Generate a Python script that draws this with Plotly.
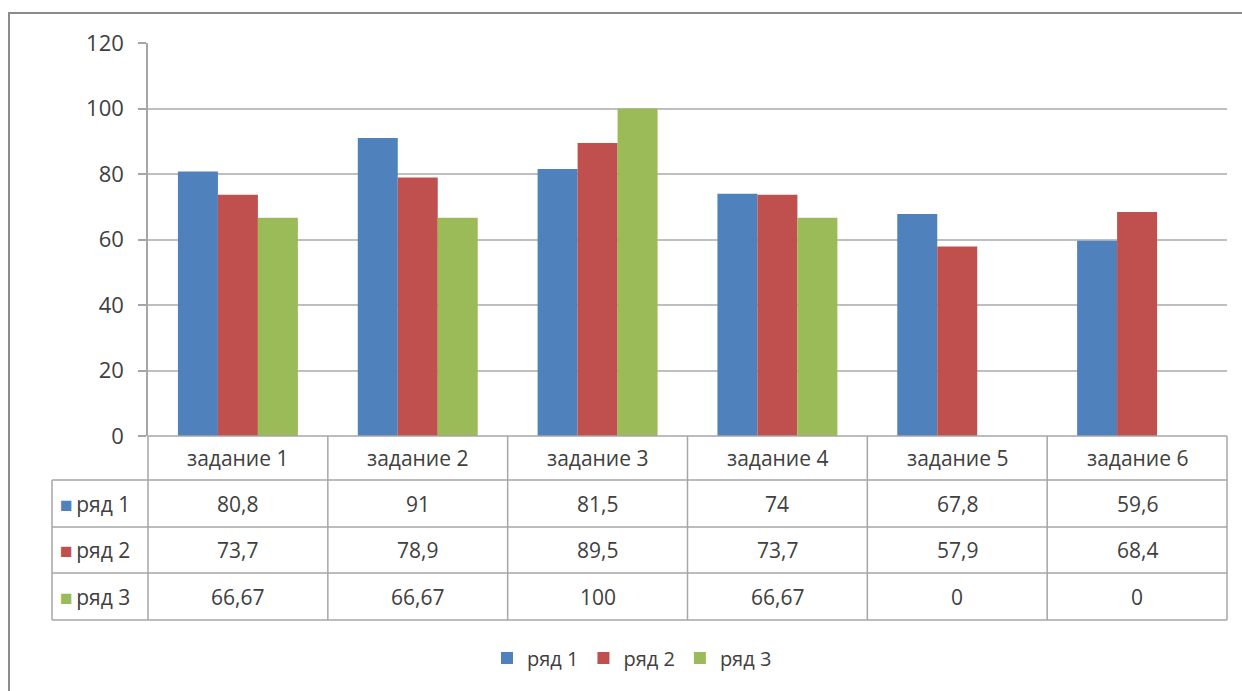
import plotly.graph_objects as go

categories = ["задание 1", "задание 2", "задание 3", "задание 4", "задание 5", "задание 6"]
series_names = ["ряд 1", "ряд 2", "ряд 3"]
row1 = [80.8, 91, 81.5, 74, 67.8, 59.6]
row2 = [73.7, 78.9, 89.5, 73.7, 57.9, 68.4]
row3 = [66.67, 66.67, 100, 66.67, 0, 0]
colors = ["#4F81BD", "#C0504D", "#9BBB59"]
y_ticks = [0, 20, 40, 60, 80, 100, 120]

W, H = 1242, 691
FONT = "Open Sans"
TXT = "#404040"
GRID = "#BFBFBF"
LINE = "#A6A6A6"

def px(x):
    return x / W

def py(y):
    return 1 - y / H

# layout geometry (pixels)
X0, X1 = 148, 1227
Y_TOP, Y_ZERO = 43, 436
ROW_H = [44, 47, 46, 47]
LEFT = 52

def fmt(v):
    if float(v) == int(v):
        return str(int(v))
    return ("%g" % v).replace(".", ",")

fig = go.Figure()
for name, vals, c in zip(series_names, [row1, row2, row3], colors):
    fig.add_trace(go.Bar(x=categories, y=vals, name=name, marker=dict(color=c, line=dict(width=0))))

shapes = []
annotations = []

# outer frame
shapes.append(dict(type="rect", xref="paper", yref="paper", x0=px(9), x1=px(1260), y0=py(13), y1=py(720),
                   line=dict(color="#8C8C8C", width=2), fillcolor="rgba(0,0,0,0)", layer="below"))

# table grid
ncat = len(categories)
colw = (X1 - X0) / ncat
row_edges = [Y_ZERO]
for h in ROW_H:
    row_edges.append(row_edges[-1] + h)

shapes.append(dict(type="line", xref="paper", yref="paper", x0=px(X0), x1=px(X1), y0=py(Y_ZERO), y1=py(Y_ZERO),
                   line=dict(color=LINE, width=1.5)))
for ye in row_edges[1:]:
    shapes.append(dict(type="line", xref="paper", yref="paper", x0=px(LEFT), x1=px(X1), y0=py(ye), y1=py(ye),
                       line=dict(color=LINE, width=1.5)))
for i in range(ncat + 1):
    xv = X0 + i * colw
    shapes.append(dict(type="line", xref="paper", yref="paper", x0=px(xv), x1=px(xv), y0=py(Y_ZERO), y1=py(row_edges[-1]),
                       line=dict(color=LINE, width=1.5)))
shapes.append(dict(type="line", xref="paper", yref="paper", x0=px(LEFT), x1=px(LEFT), y0=py(row_edges[1]), y1=py(row_edges[-1]),
                   line=dict(color=LINE, width=1.5)))

# category labels
for i, cat in enumerate(categories):
    cx = X0 + (i + 0.5) * colw
    cy = (row_edges[0] + row_edges[1]) / 2
    annotations.append(dict(xref="paper", yref="paper", x=px(cx), y=py(cy), text=cat, showarrow=False,
                            font=dict(family=FONT, size=21, color=TXT), xanchor="center", yanchor="middle"))

# data rows
for r, (name, vals, c) in enumerate(zip(series_names, [row1, row2, row3], colors)):
    cy = (row_edges[r + 1] + row_edges[r + 2]) / 2
    annotations.append(dict(xref="paper", yref="paper", x=px(LEFT + 6), y=py(cy),
                            text="<span style='color:%s'>■</span>\u2009%s" % (c, name), showarrow=False,
                            font=dict(family=FONT, size=21, color=TXT), xanchor="left", yanchor="middle"))
    for i, v in enumerate(vals):
        cx = X0 + (i + 0.5) * colw
        annotations.append(dict(xref="paper", yref="paper", x=px(cx), y=py(cy), text=fmt(v), showarrow=False,
                                font=dict(family=FONT, size=21, color=TXT), xanchor="center", yanchor="middle"))

fig.update_layout(
    width=W, height=H,
    margin=dict(l=0, r=0, t=0, b=0, autoexpand=False),
    paper_bgcolor="white", plot_bgcolor="white",
    barmode="group", bargap=0.333, bargroupgap=0,
    xaxis=dict(domain=[px(X0), px(X1)], showticklabels=False, showgrid=False, zeroline=False,
               showline=False, ticks="", automargin=False),
    yaxis=dict(domain=[py(Y_ZERO), py(Y_TOP)], range=[0, 120], tickvals=y_ticks,
               showgrid=True, gridcolor=GRID, gridwidth=1.5, zeroline=False,
               showline=True, linecolor=LINE, linewidth=1.5,
               ticks="outside", ticklen=8, tickcolor=LINE, tickwidth=1.5, automargin=False,
               tickfont=dict(family=FONT, size=22, color=TXT), ticklabelstandoff=10),
    showlegend=True,
    legend=dict(orientation="h", x=px(632), y=py(658), xanchor="center", yanchor="middle",
                font=dict(family=FONT, size=20, color=TXT), itemwidth=30, tracegroupgap=0,
                bgcolor="rgba(0,0,0,0)"),
    shapes=shapes, annotations=annotations,
)

fig.write_html("out.html", config={"displayModeBar": False},
               post_script="document.body.style.margin='0';document.body.style.overflow='hidden';")
